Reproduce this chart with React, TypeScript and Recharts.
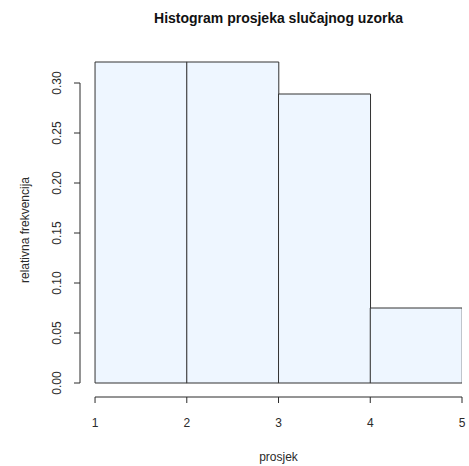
import React from "react";
import { Bar, ComposedChart, ReferenceLine, XAxis, YAxis } from "recharts";

// Histogram of sample means (R hist style, relative frequencies)
const binMids = [1.5, 2.5, 3.5, 4.5];
const relFreq = [0.321, 0.321, 0.289, 0.075];
const xTicks = [1, 2, 3, 4, 5];
const yTicks = [0, 0.05, 0.1, 0.15, 0.2, 0.25, 0.3];

const TITLE = "Histogram prosjeka slučajnog uzorka";
const X_LABEL = "prosjek";
const Y_LABEL = "relativna frekvencija";

const W = 469;
const H = 466;
const FONT = "'Liberation Sans', Arial, Helvetica, sans-serif";
const INK = "#2a2a2a";
const BAR_FILL = "#eef6ff";

// R draws axes offset from the plot region; extend domains so the lines sit apart.
const X_DOMAIN: [number, number] = [0.836, 5];
const Y_DOMAIN: [number, number] = [-0.014, 0.322];

const data = binMids.map((m, i) => ({ mid: m, freq: relFreq[i] }));

function YTick(props: any) {
  const { x, y, payload } = props;
  return (
    <text
      x={x}
      y={y}
      transform={`rotate(-90, ${x}, ${y})`}
      textAnchor="middle"
      dominantBaseline="central"
      fill={INK}
      fontSize={12}
      fontFamily={FONT}
    >
      {payload.value.toFixed(2)}
    </text>
  );
}

export default function App() {
  return (
    <div style={{ position: "absolute", left: 0, top: 0, width: W, height: H, background: "#fff", fontFamily: FONT }}>
      <div
        style={{
          position: "absolute",
          left: 95,
          top: 9,
          width: 367,
          height: 18,
          lineHeight: "18px",
          textAlign: "center",
          fontWeight: "bold",
          fontSize: 14,
          color: "#111",
        }}
      >
        {TITLE}
      </div>
      <ComposedChart
        width={W}
        height={H}
        data={data}
        margin={{ top: 61, right: 7, bottom: 0, left: 0 }}
        barCategoryGap={0}
        barGap={0}
        style={{ position: "absolute", left: 0, top: 0 }}
      >
        <XAxis
          dataKey="mid"
          type="number"
          domain={X_DOMAIN}
          ticks={xTicks}
          allowDataOverflow
          height={69}
          axisLine={false}
          tickLine={{ stroke: INK }}
          tickSize={6}
          tickMargin={15}
          tick={{ fill: INK, fontSize: 12, fontFamily: FONT }}
          interval={0}
        />
        <YAxis
          type="number"
          domain={Y_DOMAIN}
          ticks={yTicks}
          allowDataOverflow
          width={80}
          axisLine={false}
          tickLine={{ stroke: INK }}
          tickSize={6}
          tickMargin={17}
          tick={<YTick />}
          interval={0}
        />
        <Bar dataKey="freq" fill={BAR_FILL} stroke="#333" strokeWidth={1} isAnimationActive={false} />
        <ReferenceLine
          segment={[
            { x: xTicks[0], y: Y_DOMAIN[0] },
            { x: xTicks[xTicks.length - 1], y: Y_DOMAIN[0] },
          ]}
          stroke={INK}
          ifOverflow="visible"
        />
        <ReferenceLine
          segment={[
            { x: X_DOMAIN[0], y: yTicks[0] },
            { x: X_DOMAIN[0], y: yTicks[yTicks.length - 1] },
          ]}
          stroke={INK}
          ifOverflow="visible"
        />
      </ComposedChart>
      <div
        style={{
          position: "absolute",
          left: 95,
          top: 449,
          width: 367,
          height: 16,
          lineHeight: "16px",
          textAlign: "center",
          fontSize: 12,
          color: INK,
        }}
      >
        {X_LABEL}
      </div>
      <div
        style={{
          position: "absolute",
          left: 25 - 100,
          top: 230 - 8,
          width: 200,
          height: 16,
          lineHeight: "16px",
          textAlign: "center",
          fontSize: 12,
          color: INK,
          transform: "rotate(-90deg)",
        }}
      >
        {Y_LABEL}
      </div>
    </div>
  );
}
